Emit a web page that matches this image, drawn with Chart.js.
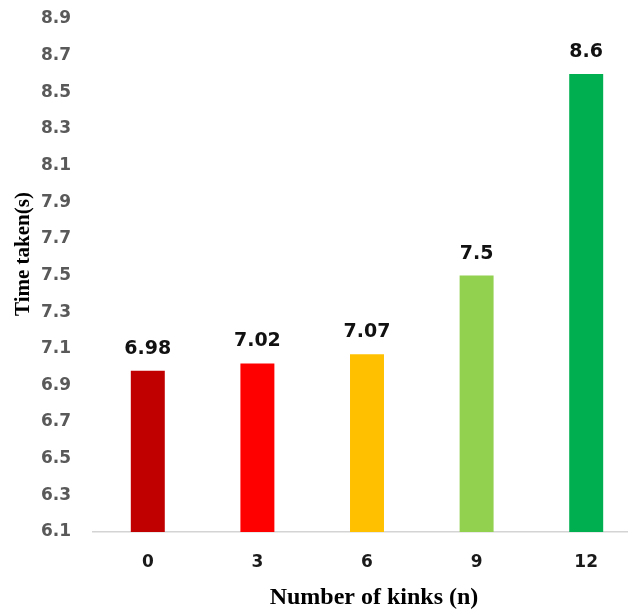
<!DOCTYPE html>
<html>
<head>
<meta charset="utf-8">
<script src="https://cdn.jsdelivr.net/npm/chart.js@4/dist/chart.umd.min.js"></script>
<style>
  html, body { margin: 0; padding: 0; background: #ffffff; overflow: hidden; }
  #wrap { width: 641px; height: 609px; }
</style>
</head>
<body>
<div id="wrap"><canvas id="c" width="641" height="609"></canvas></div>
<script>
// Number of kinks on the horizontal axis
const kinks = ['0', '3', '6', '9', '12'];
// Time taken in seconds for each kink count
const timeTaken = [6.98, 7.02, 7.07, 7.5, 8.6];
// Fill colour of each bar
const barColors = ['#C00000', '#FF0000', '#FFC000', '#92D050', '#00B050'];
// Vertical axis range and step
const yMin = 6.1;
const yMax = 8.9;
const yStep = 0.2;

const xTitle = 'Number of kinks (n)';
const yTitle = 'Time taken(s)';

// Value labels above each bar, plus the two axis titles
const annotate = {
  id: 'annotate',
  afterDatasetsDraw(chart) {
    const ctx = chart.ctx;
    const area = chart.chartArea;
    ctx.save();
    ctx.fillStyle = '#111111';
    ctx.font = 'bold 19px "DejaVu Sans"';
    ctx.textAlign = 'center';
    ctx.textBaseline = 'alphabetic';
    chart.getDatasetMeta(0).data.forEach((bar, i) => {
      ctx.fillText(String(timeTaken[i]), bar.x, bar.y - 17);
    });

    ctx.fillStyle = '#000000';
    ctx.font = 'bold 24px "Liberation Serif"';
    ctx.textBaseline = 'alphabetic';
    ctx.fillText(xTitle, (area.left + area.right) / 2 + 7, 604);

    ctx.font = 'bold 21px "Liberation Serif"';
    ctx.translate(29, 254);
    ctx.rotate(-Math.PI / 2);
    ctx.textBaseline = 'alphabetic';
    ctx.fillText(yTitle, 0, 0);
    ctx.restore();
  }
};

new Chart(document.getElementById('c'), {
  type: 'bar',
  data: {
    labels: kinks,
    datasets: [{
      data: timeTaken,
      backgroundColor: barColors,
      borderWidth: 0,
      barPercentage: 1.0,
      categoryPercentage: 0.31
    }]
  },
  options: {
    responsive: false,
    animation: false,
    devicePixelRatio: 1,
    layout: { padding: { left: 0, right: 0, top: 19, bottom: 0 } },
    plugins: {
      legend: { display: false },
      tooltip: { enabled: false },
      title: { display: false }
    },
    scales: {
      x: {
        grid: { display: false, drawTicks: false },
        border: { display: true, color: '#D4D4D4', width: 1.5 },
        ticks: {
          color: '#1a1a1a',
          padding: 20,
          font: { family: '"DejaVu Sans"', size: 17, weight: 'bold' }
        },
        afterFit(scale) {
          scale.height = 77;
          scale.paddingLeft = 0;
          scale.paddingRight = 0;
        }
      },
      y: {
        min: yMin,
        max: yMax,
        grid: { display: false, drawTicks: false },
        border: { display: false },
        ticks: {
          stepSize: yStep,
          color: '#595959',
          padding: 22,
          font: { family: '"DejaVu Sans"', size: 17, weight: 'bold' },
          callback: (v) => Number(v).toFixed(1)
        },
        afterFit(scale) {
          scale.width = 93;
          scale.paddingTop = 0;
          scale.paddingBottom = 0;
        }
      }
    }
  },
  plugins: [annotate]
});
</script>
</body>
</html>
